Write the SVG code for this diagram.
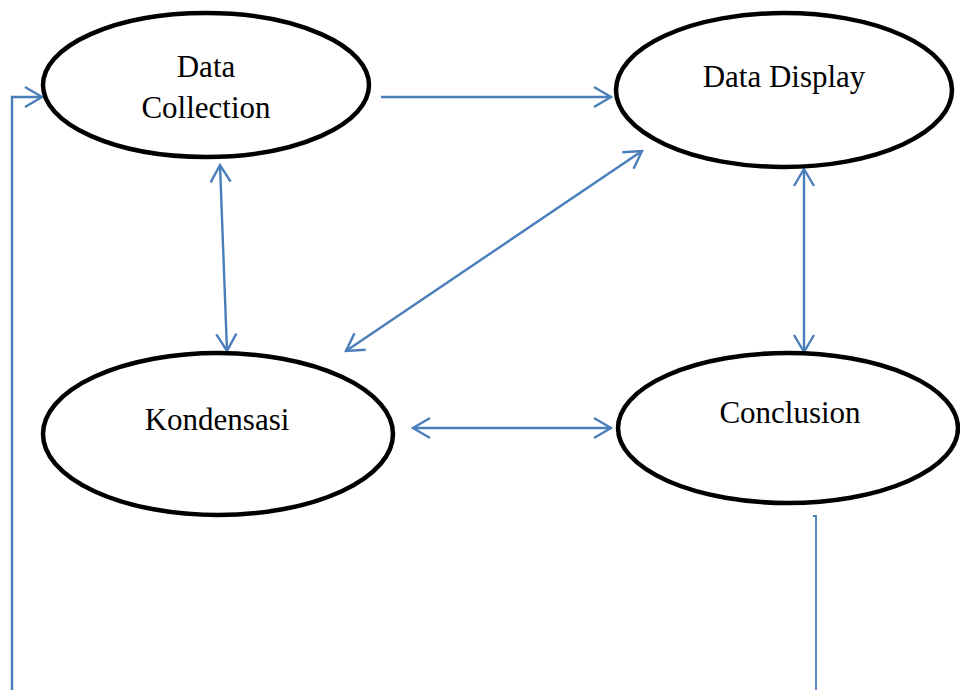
<svg xmlns="http://www.w3.org/2000/svg" width="960" height="690" viewBox="0 0 960 690">
<style>
.node ellipse{fill:#fff;stroke:#000;stroke-width:4.5}
.node text{font-family:"Liberation Serif","Times New Roman",serif;font-size:31px;fill:#000;text-anchor:middle}
.conn path,.conn line{fill:none;stroke:#4a7ebb;stroke-width:2.4}
</style>
<defs>
<marker id="arr" markerUnits="userSpaceOnUse" markerWidth="24" markerHeight="24" refX="0" refY="0" orient="auto-start-reverse" overflow="visible">
<path d="M-17,-10 L0,0 L-17,10" fill="none" stroke="#4a7ebb" stroke-width="2.4"/>
</marker>
</defs>
<rect width="960" height="690" fill="#fff"/>
<g class="conn" id="connectors">
<line x1="381" y1="97" x2="611" y2="97" marker-end="url(#arr)"/>
<line x1="220" y1="165" x2="227" y2="351" marker-start="url(#arr)" marker-end="url(#arr)"/>
<line x1="346" y1="351" x2="642" y2="151" marker-start="url(#arr)" marker-end="url(#arr)"/>
<line x1="804" y1="169" x2="804" y2="352" marker-start="url(#arr)" marker-end="url(#arr)"/>
<line x1="413" y1="428" x2="611" y2="428" marker-start="url(#arr)" marker-end="url(#arr)"/>
<path d="M12,690 L12,97 L42,97" marker-end="url(#arr)"/>
<path d="M813,516 L816,516 L816,690" style="stroke-width:1.8"/>
</g>
<g class="node" id="data-collection">
<ellipse cx="206" cy="85" rx="163" ry="72"/>
<text x="206" y="77">Data</text>
<text x="206" y="118">Collection</text>
</g>
<g class="node" id="data-display">
<ellipse cx="784" cy="90" rx="168" ry="77"/>
<text x="784" y="87">Data Display</text>
</g>
<g class="node" id="kondensasi">
<ellipse cx="218" cy="434" rx="175" ry="81"/>
<text x="217" y="430">Kondensasi</text>
</g>
<g class="node" id="conclusion">
<ellipse cx="788" cy="428" rx="170" ry="75"/>
<text x="790" y="423">Conclusion</text>
</g>
</svg>
